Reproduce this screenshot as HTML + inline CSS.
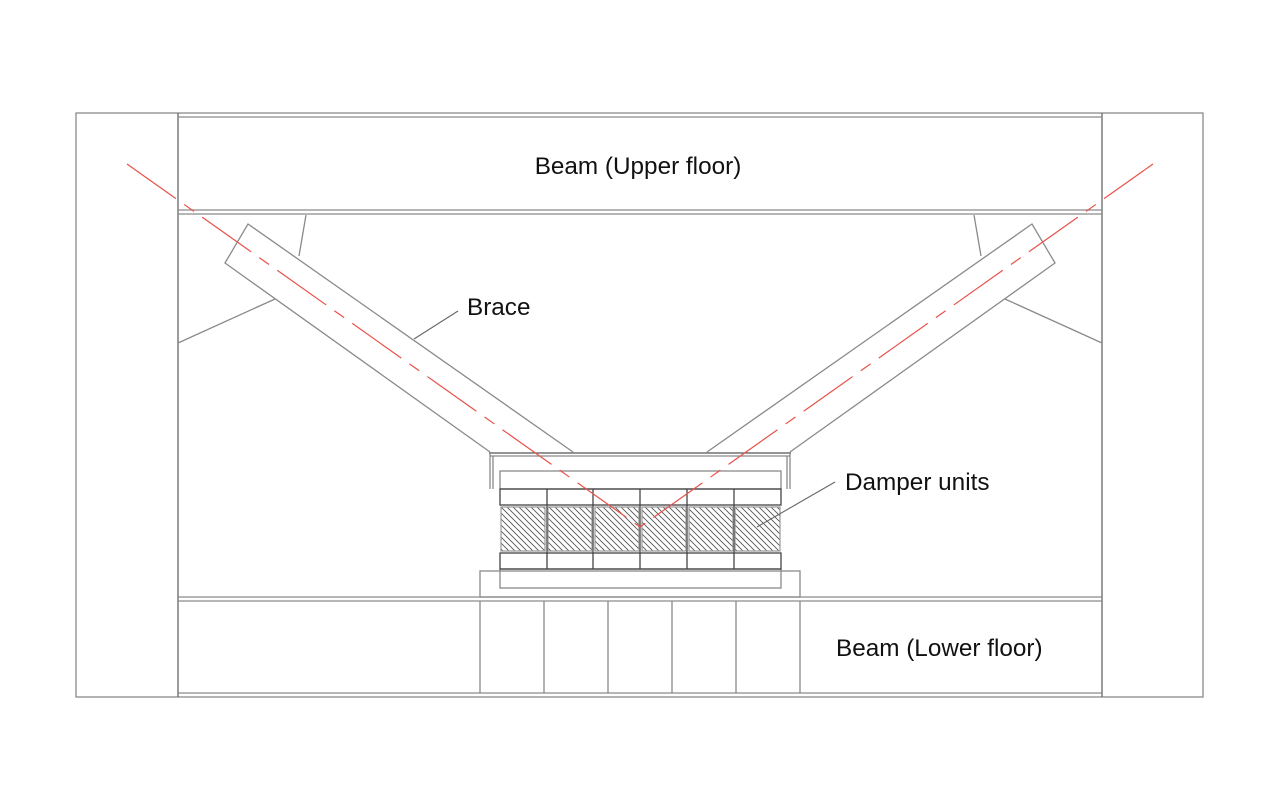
<!DOCTYPE html>
<html><head><meta charset="utf-8"><style>
html,body{margin:0;padding:0;background:#fff;}
svg{display:block;}
text{font-family:"Liberation Sans",Arial,sans-serif;font-size:24.3px;fill:#111;}
</style></head><body>
<svg width="1280" height="800" viewBox="0 0 1280 800" xmlns="http://www.w3.org/2000/svg">
<defs>
<pattern id="h" patternUnits="userSpaceOnUse" width="6" height="6">
<path d="M0,0 L6,6 M-1,5 L1,7 M5,-1 L7,1" stroke="#555" stroke-width="0.9"/>
</pattern>
</defs>
<g fill="none" stroke="#8a8a8a" stroke-width="1.3">
<rect x="76" y="113" width="1127" height="584"/>
<line x1="178" y1="113" x2="178" y2="697" stroke="#666"/>
<line x1="1102" y1="113" x2="1102" y2="697" stroke="#666"/>
<line x1="178" y1="117" x2="1102" y2="117"/>
<line x1="178" y1="210" x2="1102" y2="210"/>
<line x1="178" y1="214" x2="1102" y2="214"/>
<line x1="178" y1="597" x2="1102" y2="597"/>
<line x1="178" y1="601" x2="1102" y2="601"/>
<line x1="178" y1="693" x2="1102" y2="693"/>
<line x1="306" y1="215" x2="299" y2="256"/>
<line x1="275" y1="299" x2="178" y2="343"/>
<line x1="974" y1="215" x2="981" y2="256"/>
<line x1="1005" y1="299" x2="1102" y2="343"/>
<polyline points="573,452 248,224 225,263 490,452"/>
<polyline points="707,452 1032,224 1055,263 790,452"/>
<line x1="489" y1="453" x2="791" y2="453" stroke="#555"/>
<line x1="490" y1="456" x2="790" y2="456"/>
<line x1="490" y1="453" x2="490" y2="489"/>
<line x1="493" y1="456" x2="493" y2="489"/>
<line x1="790" y1="453" x2="790" y2="489"/>
<line x1="787" y1="456" x2="787" y2="489"/>
<rect x="500" y="471" width="281" height="18"/>
<rect x="480" y="571" width="320" height="26"/>
<rect x="500" y="569" width="281" height="19"/>
<line x1="480" y1="601" x2="480" y2="693"/>
<line x1="544" y1="601" x2="544" y2="693"/>
<line x1="608" y1="601" x2="608" y2="693"/>
<line x1="672" y1="601" x2="672" y2="693"/>
<line x1="736" y1="601" x2="736" y2="693"/>
<line x1="800" y1="601" x2="800" y2="693"/>
</g>
<g stroke="#444" stroke-width="1.3" fill="none">
<rect x="500" y="489" width="281" height="16"/>
<rect x="500" y="553" width="281" height="16"/>
<line x1="547" y1="489" x2="547" y2="569"/>
<line x1="593" y1="489" x2="593" y2="569"/>
<line x1="640" y1="489" x2="640" y2="569"/>
<line x1="687" y1="489" x2="687" y2="569"/>
<line x1="734" y1="489" x2="734" y2="569"/>
</g>
<g fill="url(#h)" stroke="#999" stroke-width="1.2">
<rect x="501" y="507" width="44" height="44"/>
<rect x="548" y="507" width="44" height="44"/>
<rect x="595" y="507" width="44" height="44"/>
<rect x="642" y="507" width="44" height="44"/>
<rect x="689" y="507" width="44" height="44"/>
<rect x="735" y="507" width="45" height="44"/>
</g>
<g stroke="#e8514a" stroke-width="1.2" fill="none" stroke-dasharray="60,10,12,10">
<line x1="127" y1="164" x2="640" y2="527"/>
<line x1="1153" y1="164" x2="640" y2="527"/>
</g>
<g stroke="#666" stroke-width="1.1">
<line x1="458" y1="311" x2="414" y2="339"/>
<line x1="835" y1="482" x2="757" y2="527"/>
</g>
<text x="638" y="174" text-anchor="middle">Beam (Upper floor)</text>
<text x="467" y="315">Brace</text>
<text x="845" y="490">Damper units</text>
<text x="836" y="656">Beam (Lower floor)</text>
</svg>
</body></html>
